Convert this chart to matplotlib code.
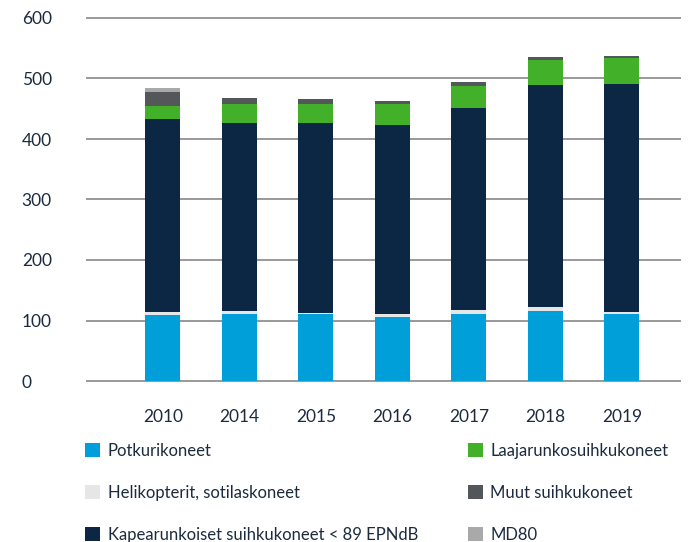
import matplotlib
matplotlib.use("Agg")
import matplotlib.pyplot as plt
import numpy as np

years = ["2010", "2014", "2015", "2016", "2017", "2018", "2019"]
potkuri = [109, 111, 111, 106, 111, 116, 111]
heli = [5, 5, 1.5, 5, 7, 6.5, 3]
kapea = [319, 311, 314.5, 312.5, 333.5, 367, 377]
laaja = [21.5, 31.5, 31.5, 34.5, 36.5, 41.5, 43]
muut = [23, 10, 8, 5, 6.5, 5, 3.5]
md80 = [7, 0, 0, 0, 0, 0, 0]

series = [
    ("Potkurikoneet", potkuri, "#009fda"),
    ("Helikopterit, sotilaskoneet", heli, "#e6e6e6"),
    ("Kapearunkoiset suihkukoneet < 89 EPNdB", kapea, "#0c2744"),
    ("Laajarunkosuihkukoneet", laaja, "#43b02a"),
    ("Muut suihkukoneet", muut, "#53575a"),
    ("MD80", md80, "#a9a9a9"),
]

text_color = "#1c2b3e"
plt.rcParams['font.family'] = ['Lato', 'DejaVu Sans']

fig = plt.figure(figsize=(7.0, 5.42), dpi=100)
ax = fig.add_axes([87/700, 1 - 381/542, (680-87)/700, (381-18)/542])

x = np.arange(len(years))
bottom = np.zeros(len(years))
handles = []
for name, vals, col in series:
    v = np.array(vals, dtype=float)
    b = ax.bar(x, v, bottom=bottom, width=0.46, color=col, label=name, zorder=3)
    handles.append(b)
    bottom += v

ax.set_xlim(-0.99, 6.76)
ax.set_ylim(0, 600)
ax.set_yticks([0, 100, 200, 300, 400, 500, 600])
ax.set_xticks(x)
ax.set_xticklabels(years)
ax.yaxis.grid(True, color="#999999", linewidth=1.4, zorder=0)
for gl in ax.get_ygridlines():
    gl.set_clip_on(False)
ax.set_axisbelow(True)
for s in ax.spines.values():
    s.set_visible(False)
ax.tick_params(axis='both', length=0, labelsize=12.5, colors=text_color)
ax.tick_params(axis='x', pad=20)
ax.tick_params(axis='y', pad=47)
for lbl in ax.get_yticklabels():
    lbl.set_horizontalalignment('left')

fig.legend(handles=handles, labels=[s[0] for s in series], loc='upper left',
           bbox_to_anchor=(70/700, 1 - 428/542), ncol=2, frameon=False,
           fontsize=12, labelcolor=text_color, handlelength=0.9, handleheight=0.9,
           handletextpad=0.45, labelspacing=1.55, columnspacing=3.0)

fig.savefig("out.png", dpi=100)
